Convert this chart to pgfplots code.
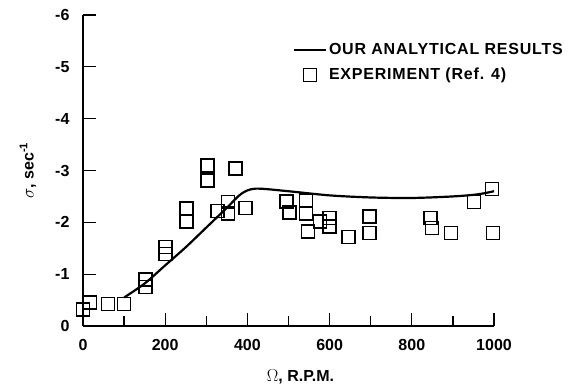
\documentclass[border=0pt]{standalone}
\usepackage{fontspec}
\setmainfont{Liberation Sans}
\newfontfamily\legfont[LetterSpace=5]{Liberation Sans}
\usepackage{pgfplots}
\pgfplotsset{compat=1.18}
\pgfplotsset{
  linelegend/.style={legend image code/.code={\draw[##1] (0pt,0pt) -- (32pt,0pt);}},
  marklegend/.style={legend image code/.code={\draw[##1] plot coordinates {(16pt,0pt)};}},
}
\begin{document}
\begin{tikzpicture}
\begin{axis}[
  scale only axis,
  width=411pt, height=311pt,
  xmin=0, xmax=1000, ymin=-6, ymax=0,
  y dir=reverse,
  axis lines=left,
  axis line style={line width=1.6pt, -},
  xtick={0,200,...,1000},
  minor xtick={100,300,...,900},
  ytick={-6,-5,...,0},
  yticklabels={-6,-5,-4,-3,-2,-1,0},
  tick align=inside,
  major tick length=13pt,
  minor tick length=10pt,
  tick style={line width=1.3pt, black},
  /pgf/number format/assume math mode=true,
  /pgf/number format/set thousands separator={},
  ticklabel style={font=\fontsize{16}{18}\selectfont\bfseries},
  xticklabel style={yshift=-10pt},
  yticklabel style={xshift=-10pt},
  xlabel={\fontsize{16}{18}\selectfont\bfseries$\Omega$, R.P.M.},
  ylabel={\fontsize{16}{18}\selectfont\bfseries$\sigma$, sec\textsuperscript{-1}},
  every axis x label/.style={at={(rel axis cs:0.5,0)}, yshift=-51pt, xshift=12pt, anchor=center},
  every axis y label/.style={at={(rel axis cs:0,0.5)}, xshift=-55pt, rotate=90, anchor=center},
  clip=false,
  legend style={draw=none, fill=none, at={(0.51,0.915)}, anchor=north west,
    font=\fontsize{16}{18}\selectfont\bfseries\legfont, row sep=8pt, inner sep=0pt},
  legend cell align=left,
]
\addplot[black, line width=2.2pt, smooth, linelegend] coordinates {
(100,-0.55) (150,-0.82) (200,-1.17) (250,-1.52) (300,-1.90) (350,-2.28)
(385,-2.55) (420,-2.65) (500,-2.60) (600,-2.52) (700,-2.48) (800,-2.47)
(900,-2.50) (960,-2.54) (1000,-2.60)};
\addlegendentry{OUR ANALYTICAL RESULTS}
\addplot[only marks, mark=square, mark size=6.5pt, black, mark options={line width=1.4pt},
  marklegend] coordinates {
(0,-0.32) (17,-0.45) (61,-0.43) (100,-0.42) (152,-0.90) (152,-0.75)
(201,-1.53) (201,-1.39) (252,-2.27) (252,-2.02) (303,-3.10) (303,-2.81)
(327,-2.22) (353,-2.39) (353,-2.17) (371,-3.04) (395,-2.28)
(495,-2.40) (502,-2.19) (543,-2.42) (543,-2.17) (547,-1.82)
(577,-2.02) (600,-2.08) (600,-1.92) (646,-1.72) (697,-2.11) (697,-1.79)
(845,-2.08) (849,-1.89) (896,-1.79) (951,-2.39) (995,-2.64) (998,-1.80)};
\addlegendentry{EXPERIMENT (Ref. 4)}
\end{axis}
\path (current axis.south west) ++(-83pt,-62pt) rectangle ++(577pt,388pt);
\end{tikzpicture}
\end{document}
